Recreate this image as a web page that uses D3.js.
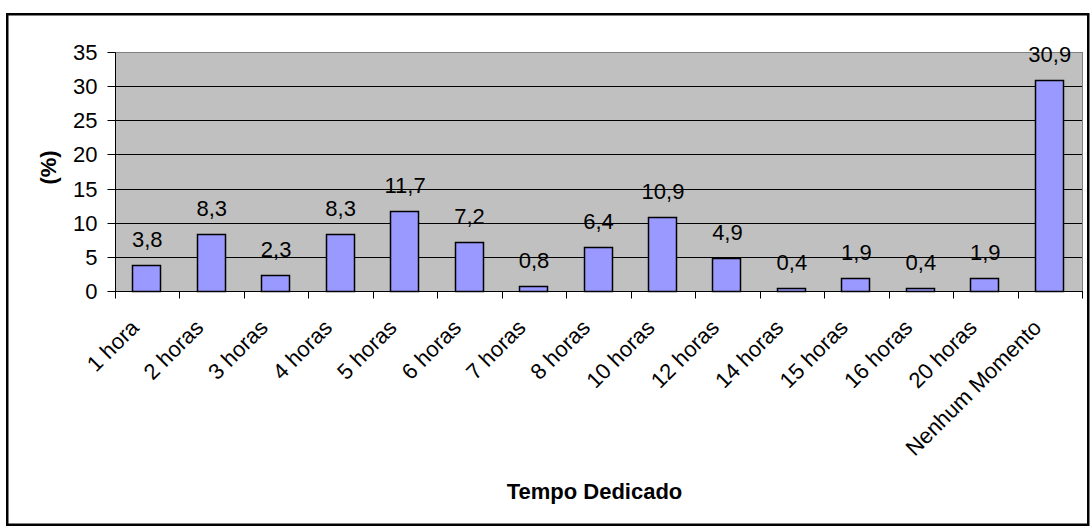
<!DOCTYPE html>
<html>
<head>
<meta charset="utf-8">
<script src="https://cdn.jsdelivr.net/npm/d3@7"></script>
<style>
  html, body { margin: 0; padding: 0; background: #fff; }
  svg { display: block; }
  text { font-family: "Liberation Sans", Arial, sans-serif; fill: #000; }
</style>
</head>
<body>
<svg id="chart" width="1090" height="526"></svg>
<script>
// Horas dedicadas por semana (%)
const categories = ["1 hora", "2 horas", "3 horas", "4 horas", "5 horas", "6 horas", "7 horas",
  "8 horas", "10 horas", "12 horas", "14 horas", "15 horas", "16 horas", "20 horas", "Nenhum Momento"];
const values = [3.8, 8.3, 2.3, 8.3, 11.7, 7.2, 0.8, 6.4, 10.9, 4.9, 0.4, 1.9, 0.4, 1.9, 30.9];
const yTicks = [0, 5, 10, 15, 20, 25, 30, 35];
const xTitle = "Tempo Dedicado";
const yTitle = "(%)";

const svg = d3.select("#chart");
const plot = { left: 115, right: 1082, top: 52, bottom: 291 };
const fmt = v => String(v).replace(".", ",");

// chart border
svg.append("rect")
  .attr("x", 7.25).attr("y", 14.25)
  .attr("width", 1081).attr("height", 510.5)
  .attr("fill", "#fff").attr("stroke", "#000").attr("stroke-width", 2.5);

const xCat = d3.scaleBand().domain(categories).range([plot.left, plot.right]).padding(0);
const xBar = d3.scaleBand().domain(categories).range([plot.left, plot.right])
  .paddingInner(0.566).paddingOuter(0.283);
const y = d3.scaleLinear().domain([0, 35]).range([plot.bottom, plot.top]);
const py = v => Math.round(y(v)) + 0.5;

// plot area
svg.append("rect")
  .attr("x", plot.left + 0.5).attr("y", py(35))
  .attr("width", plot.right - plot.left).attr("height", py(0) - py(35))
  .attr("fill", "#c0c0c0").attr("stroke", "#808080").attr("stroke-width", 1);

// gridlines
svg.append("g").selectAll("line")
  .data(yTicks.filter(t => t > 0 && t < 35))
  .join("line")
  .attr("x1", plot.left).attr("x2", plot.right)
  .attr("y1", py).attr("y2", py)
  .attr("stroke", "#000").attr("stroke-width", 1);

// bars
svg.append("g").selectAll("rect")
  .data(categories)
  .join("rect")
  .attr("x", c => Math.round(xBar(c)) - 0.5)
  .attr("y", (c, i) => py(values[i]))
  .attr("width", Math.round(xBar.bandwidth()))
  .attr("height", (c, i) => py(0) - py(values[i]))
  .attr("fill", "#9999ff").attr("stroke", "#000").attr("stroke-width", 1.5);

// value labels
svg.append("g").selectAll("text")
  .data(categories)
  .join("text")
  .attr("x", c => xBar(c) + xBar.bandwidth() / 2)
  .attr("y", (c, i) => y(values[i]) - 18)
  .attr("text-anchor", "middle")
  .attr("font-size", 22)
  .text((c, i) => fmt(values[i]));

// y axis
const yAxis = svg.append("g")
  .attr("transform", `translate(${plot.left + 0.5},0)`)
  .call(d3.axisLeft(y).tickValues(yTicks).tickSize(8).tickPadding(10).tickFormat(d => d))
  .call(g => g.select(".domain").remove());
yAxis.selectAll(".tick line").attr("stroke", "#000");
yAxis.selectAll(".tick").attr("transform", d => `translate(0,${py(d)})`);
yAxis.selectAll(".tick text")
  .attr("font-size", 22).attr("font-family", "Liberation Sans, Arial, sans-serif").attr("fill", "#000");
svg.append("line")
  .attr("x1", plot.left + 0.5).attr("x2", plot.left + 0.5)
  .attr("y1", py(35)).attr("y2", py(0))
  .attr("stroke", "#000");

// x axis line and ticks at category boundaries
const step = xCat.step();
const bounds = categories.map(c => xCat(c)).concat([plot.right]);
svg.append("line")
  .attr("x1", plot.left).attr("x2", plot.right + 1)
  .attr("y1", py(0)).attr("y2", py(0))
  .attr("stroke", "#000");
svg.append("g").selectAll("line")
  .data(bounds)
  .join("line")
  .attr("x1", b => Math.round(b) + 0.5).attr("x2", b => Math.round(b) + 0.5)
  .attr("y1", py(0)).attr("y2", py(0) + 7)
  .attr("stroke", "#000");

// category labels, rotated
svg.append("g").selectAll("text")
  .data(categories)
  .join("text")
  .attr("transform", c => `translate(${xCat(c) + step / 2 - 7},329) rotate(-45)`)
  .attr("text-anchor", "end")
  .attr("font-size", 22)
  .text(c => c);

// axis titles
svg.append("text")
  .attr("x", (plot.left + plot.right) / 2 - 4).attr("y", 499)
  .attr("text-anchor", "middle")
  .attr("font-size", 22).attr("font-weight", "bold")
  .text(xTitle);
svg.append("text")
  .attr("transform", `translate(56,${(plot.top + plot.bottom) / 2 - 4}) rotate(-90)`)
  .attr("text-anchor", "middle")
  .attr("font-size", 22).attr("font-weight", "bold")
  .text(yTitle);
</script>
</body>
</html>
